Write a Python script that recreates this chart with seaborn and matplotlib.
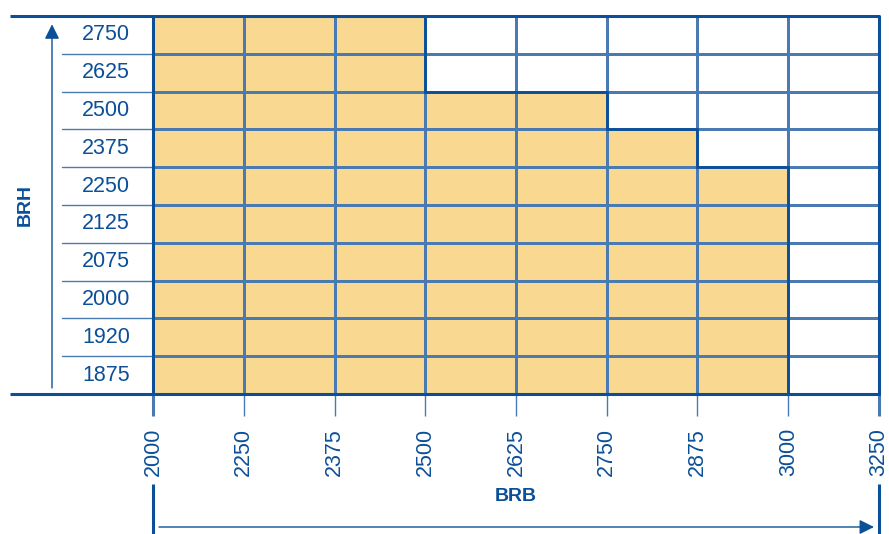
import numpy as np
import pandas as pd
import matplotlib
matplotlib.use("Agg")
import matplotlib.pyplot as plt
import seaborn as sns
from matplotlib.colors import ListedColormap

# ---- data ----
brb_bounds = [2000, 2250, 2375, 2500, 2625, 2750, 2875, 3000, 3250]   # BRB column boundaries
brh_rows = [2750, 2625, 2500, 2375, 2250, 2125, 2075, 2000, 1920, 1875]  # BRH rows (top -> bottom)
max_brh = [2750, 2750, 2750, 2500, 2500, 2375, 2250, 0]                # highest BRH available per BRB column

DARK = "#0b4f98"
GRID = "#4a7ab2"
FILL = "#f9d891"

sns.set_style("white")
plt.rcParams["font.family"] = ["Liberation Sans", "DejaVu Sans"]

# availability matrix
mat = np.array([[1 if h <= m else 0 for m in max_brh] for h in brh_rows])
df = pd.DataFrame(mat, index=brh_rows, columns=[f"{a}-{b}" for a, b in zip(brb_bounds[:-1], brb_bounds[1:])])

W, H = 889, 534
fig = plt.figure(figsize=(W / 100, H / 100), dpi=100)
ax = fig.add_axes([153 / W, 1 - 394 / H, (879 - 153) / W, (394 - 16) / H])

sns.heatmap(df, ax=ax, cmap=ListedColormap(["white", FILL]), vmin=0, vmax=1,
            cbar=False, linewidths=1.0, linecolor=GRID)

ncol = len(brb_bounds) - 1
nrow = len(brh_rows)
ax.set_xlim(0, ncol)
ax.set_ylim(nrow, 0)

# x ticks at column boundaries
ax.set_xticks(range(len(brb_bounds)))
ax.set_xticklabels([str(v) for v in brb_bounds], rotation=90, fontsize=15.5, color=DARK)
ax.tick_params(axis="x", bottom=True, length=15.8, width=1.0, color=GRID, pad=8.5)
ticks = ax.xaxis.get_major_ticks()
for t in (ticks[0], ticks[-1]):
    t.tick1line.set_markeredgewidth(2.2)
    t.tick1line.set_color(DARK)

# y labels centred on rows
ax.set_yticks(np.arange(nrow) + 0.5)
ax.set_yticklabels([str(v) for v in brh_rows], rotation=0, fontsize=15.5, color=DARK)
ax.tick_params(axis="y", left=False, length=0, pad=16.5)
for lab in ax.get_yticklabels():
    lab.set_horizontalalignment("right")
ax.set_xlabel("")
ax.set_ylabel("")

# label-column row separators
for r in range(1, nrow):
    ax.plot([-1, 0], [r, r], color=GRID, lw=1.0, clip_on=False)

# thick frame lines
x_left = (10 - 153) / 90.75
ax.plot([x_left, ncol], [0, 0], color=DARK, lw=2.2, clip_on=False, solid_capstyle="butt")
ax.plot([x_left, ncol], [nrow, nrow], color=DARK, lw=2.2, clip_on=False, solid_capstyle="butt")
ax.plot([0, 0], [0, nrow], color=DARK, lw=2.2, clip_on=False)
ax.plot([ncol, ncol], [0, nrow], color=DARK, lw=2.2, clip_on=False)

# staircase outline of available area
tops = [sum(1 for h in brh_rows if h > m) for m in max_brh]
sx, sy = [], []
for j, k in enumerate(tops):
    sx += [j, j + 1]
    sy += [k, k]
ax.plot(sx, sy, color=DARK, lw=2.0, clip_on=False, solid_joinstyle="miter")

# BRH arrow and label
xa = (52 - 153) / 90.75
ax.annotate("", xy=(xa, 0.22), xytext=(xa, 9.84), annotation_clip=False,
            arrowprops=dict(arrowstyle="-|>", color=DARK, lw=1.0, mutation_scale=22,
                            shrinkA=0, shrinkB=0))
ax.text((25 - 153) / 90.75, 5.0, "BRH", rotation=90, ha="center", va="center",
        fontsize=14, fontweight="bold", color=DARK, clip_on=False)

# BRB label, arrow and end markers
ax.text(4.0, 12.72, "BRB", ha="center", va="center", fontsize=14,
        fontweight="bold", color=DARK, clip_on=False)
ya = (527 - 16) / 37.8
ax.annotate("", xy=((874 - 153) / 90.75, ya), xytext=((159 - 153) / 90.75, ya),
            annotation_clip=False,
            arrowprops=dict(arrowstyle="-|>", color=DARK, lw=1.0, mutation_scale=22,
                            shrinkA=0, shrinkB=0))
for xv in (0, ncol):
    ax.plot([xv, xv], [(484 - 16) / 37.8, (540 - 16) / 37.8], color=DARK, lw=2.2,
            clip_on=False, solid_capstyle="butt")

fig.savefig("out.png", dpi=100)
